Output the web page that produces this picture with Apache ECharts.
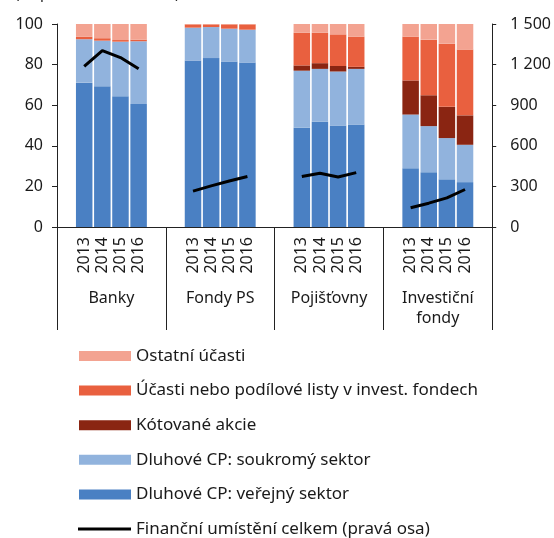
<!DOCTYPE html>
<html>
<head>
<meta charset="utf-8">
<script src="https://cdn.jsdelivr.net/npm/echarts@6/dist/echarts.min.js"></script>
<style>
  html, body { margin: 0; padding: 0; background: #fff; }
  #chart { width: 554px; height: 538px; }
</style>
</head>
<body>
<div id="chart"></div>
<script>
// Sectors and years
const groups = ['Banky', 'Fondy PS', 'Pojišťovny', 'Investiční\nfondy'];
const years = ['2013', '2014', '2015', '2016'];

// Shares in % (4 years per sector, sectors in the order above)
const verejny  = [71.1, 69.3, 64.4, 60.6,  82.0, 83.2, 81.5, 81.0,  48.9, 51.8, 50.0, 50.5,  28.9, 27.0, 23.5, 22.1];
const soukromy = [21.4, 22.5, 26.9, 30.9,  16.2, 15.3, 16.2, 16.2,  28.1, 26.1, 26.6, 27.4,  26.5, 22.7, 20.3, 18.4];
const kotovane = [0.0, 0.0, 0.0, 0.0,      0.0, 0.0, 0.0, 0.0,      2.6, 2.8, 2.7, 1.0,      16.8, 15.2, 15.4, 14.5];
const ucasti   = [1.3, 1.2, 0.8, 0.8,      1.6, 1.3, 2.1, 2.6,      16.1, 15.0, 15.6, 14.9,  21.6, 27.4, 31.1, 32.4];
const ostatni  = [6.2, 7.0, 7.9, 7.7,      0.2, 0.2, 0.2, 0.2,      4.3, 4.3, 5.1, 6.2,      6.2, 7.7, 9.7, 12.6];

// Total financial placement (right axis)
const celkem   = [1186, 1304, 1252, 1169,  265, 304, 340, 373,  373, 397, 370, 402,  142, 176, 215, 277];

// Right-axis tick labels
const rightTicks = ['0', '300', '600', '900', '1 200', '1 500'];

// Each sector occupies six slots: an empty one, four years, an empty one
const slots = [];
const slotIndex = [];
groups.forEach((g, gi) => {
  slots.push(g + '|a'); slotIndex.push(-1);
  years.forEach((y, yi) => { slots.push(g + '|' + y); slotIndex.push(gi * 4 + yi); });
  slots.push(g + '|b'); slotIndex.push(-1);
});
const spread = arr => slotIndex.map(i => (i < 0 ? null : arr[i]));

const font = 'Noto Sans';
const ink = '#1a1a1a';
const axisColor = '#222';
const lineName = 'Finanční umístění celkem (pravá osa)';

const barSeries = (name, arr, color) => ({
  name, type: 'bar', stack: 'share', data: spread(arr),
  barCategoryGap: '9%',
  itemStyle: { color },
  emphasis: { disabled: true }
});

const legendText = { fontFamily: font, fontSize: 17, color: ink, lineHeight: 20 };

const chart = echarts.init(document.getElementById('chart'), null, { renderer: 'canvas' });
chart.setOption({
  animation: false,
  textStyle: { fontFamily: font, color: ink },
  title: {
    text: '(%; pravá osa v mld. Kč)',
    left: 10, top: -19,
    textStyle: { fontFamily: font, fontSize: 15, fontWeight: 'normal', color: ink }
  },
  grid: { left: 57, right: 59, top: 24, bottom: 311 },
  legend: [
    {
      orient: 'vertical',
      left: 79, top: 346, padding: 0,
      itemWidth: 52, itemHeight: 10, itemGap: 14.6,
      textStyle: legendText,
      data: [
        { name: 'Ostatní účasti', icon: 'rect' },
        { name: 'Účasti nebo podílové listy v invest. fondech', icon: 'rect' },
        { name: 'Kótované akcie', icon: 'rect' },
        { name: 'Dluhové CP: soukromý sektor', icon: 'rect' },
        { name: 'Dluhové CP: veřejný sektor', icon: 'rect' }
      ]
    },
    {
      orient: 'vertical',
      left: 78, top: 519, padding: 0,
      itemWidth: 53, itemHeight: 3,
      textStyle: legendText,
      data: [{ name: lineName, icon: 'rect' }]
    }
  ],
  xAxis: [
    {
      type: 'category', data: slots, position: 'bottom',
      axisLine: { show: true, lineStyle: { color: axisColor, width: 1 } },
      axisTick: { show: false },
      axisLabel: {
        interval: 0, rotate: 90, margin: 10,
        fontFamily: font, fontSize: 16, color: ink,
        formatter: v => { const p = v.split('|')[1]; return years.includes(p) ? p : ''; }
      }
    },
    {
      type: 'category', data: groups, position: 'bottom',
      axisLine: { show: true, lineStyle: { color: axisColor, width: 1 } },
      axisTick: { show: true, length: 103, lineStyle: { color: axisColor, width: 1 } },
      axisLabel: { interval: 0, margin: 61, fontFamily: font, fontSize: 16, color: ink, lineHeight: 20 }
    }
  ],
  yAxis: [
    {
      type: 'value', min: 0, max: 100, interval: 20, position: 'left',
      splitLine: { show: false },
      axisLine: { show: true, lineStyle: { color: axisColor, width: 1 } },
      axisTick: { show: true, length: 5, lineStyle: { color: axisColor } },
      axisLabel: { margin: 14, fontFamily: font, fontSize: 16, color: ink }
    },
    {
      type: 'value', min: 0, max: 1500, interval: 300, position: 'right',
      splitLine: { show: false },
      axisLine: { show: true, lineStyle: { color: axisColor, width: 1 } },
      axisTick: { show: true, length: 4, lineStyle: { color: axisColor } },
      axisLabel: {
        margin: 18, fontFamily: font, fontSize: 16, color: ink,
        formatter: v => rightTicks[Math.round(v / 300)]
      }
    }
  ],
  series: [
    barSeries('Dluhové CP: veřejný sektor', verejny, '#4a80c3'),
    barSeries('Dluhové CP: soukromý sektor', soukromy, '#91b3dd'),
    barSeries('Kótované akcie', kotovane, '#8a2512'),
    barSeries('Účasti nebo podílové listy v invest. fondech', ucasti, '#e9603f'),
    barSeries('Ostatní účasti', ostatni, '#f3a391'),
    {
      name: lineName,
      type: 'line', yAxisIndex: 1, data: spread(celkem),
      connectNulls: false, symbol: 'none', z: 5,
      lineStyle: { color: '#000', width: 3 },
      itemStyle: { color: '#000' },
      emphasis: { disabled: true }
    }
  ]
});
</script>
</body>
</html>
